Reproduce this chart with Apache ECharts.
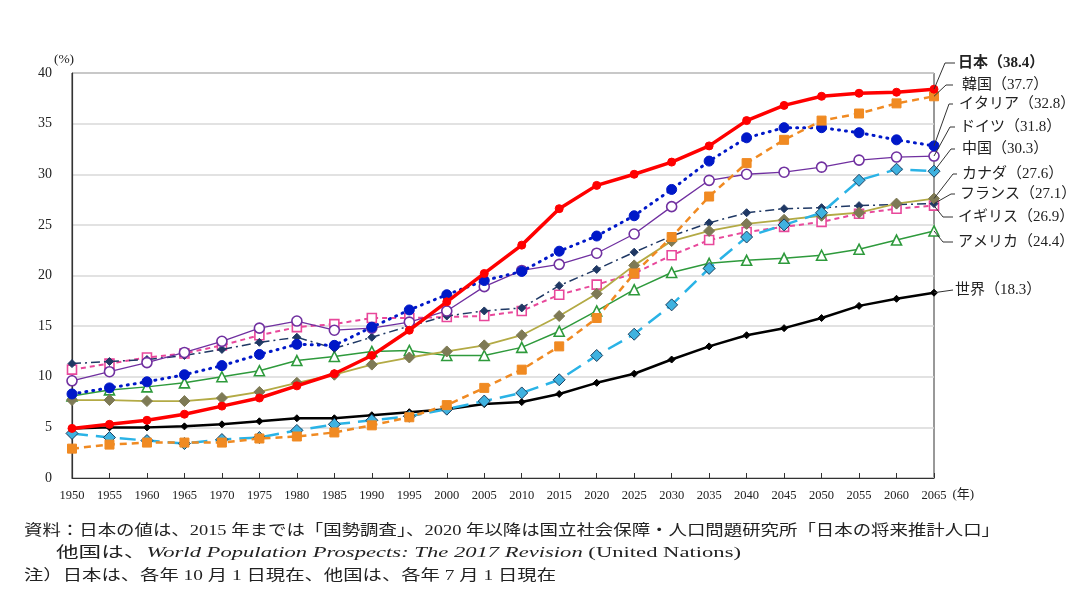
<!DOCTYPE html>
<html><head><meta charset="utf-8">
<script src="https://cdn.jsdelivr.net/npm/echarts@6/dist/echarts.min.js"></script>
<style>html,body{margin:0;padding:0;background:#fff}#c{width:1088px;height:593px}</style>
</head><body><div id="c"></div>
<script>
// ---- data ----
const years = ['1950','1955','1960','1965','1970','1975','1980','1985','1990','1995','2000','2005','2010','2015','2020','2025','2030','2035','2040','2045','2050','2055','2060','2065'];
const yTicks = [0,5,10,15,20,25,30,35,40];
const japan   = [4.9,5.3,5.7,6.3,7.1,7.9,9.1,10.3,12.1,14.6,17.4,20.2,23.0,26.6,28.9,30.0,31.2,32.8,35.3,36.8,37.7,38.0,38.1,38.4];
const korea   = [2.9,3.3,3.5,3.5,3.5,3.9,4.1,4.5,5.2,6.0,7.2,8.9,10.7,13.0,15.8,20.2,23.8,27.8,31.1,33.4,35.3,36.0,37.0,37.7];
const italy   = [8.3,8.9,9.5,10.2,11.1,12.2,13.2,13.1,14.9,16.6,18.1,19.5,20.4,22.4,23.9,25.9,28.5,31.3,33.6,34.6,34.6,34.1,33.4,32.8];
const germany = [9.6,10.5,11.4,12.4,13.5,14.8,15.5,14.6,14.8,15.4,16.5,18.9,20.5,21.1,22.2,24.1,26.8,29.4,30.0,30.2,30.7,31.4,31.7,31.8];
const china   = [4.4,4.0,3.7,3.4,3.8,4.0,4.7,5.3,5.7,6.1,6.8,7.6,8.4,9.7,12.1,14.2,17.1,20.7,23.8,25.0,26.2,29.4,30.5,30.3];
const canada  = [7.7,7.7,7.6,7.6,7.9,8.5,9.4,10.2,11.2,11.9,12.5,13.1,14.1,16.0,18.2,21.0,23.4,24.4,25.1,25.5,25.9,26.2,27.1,27.6];
const france  = [11.3,11.5,11.7,12.1,12.7,13.4,13.9,12.8,13.9,15.0,16.0,16.5,16.8,19.0,20.6,22.3,23.9,25.2,26.2,26.6,26.7,26.9,27.0,27.1];
const uk      = [10.7,11.3,11.9,12.3,13.1,14.1,14.9,15.2,15.8,15.8,15.9,16.0,16.5,18.1,19.1,20.2,22.0,23.5,24.3,24.8,25.3,26.1,26.6,26.9];
const usa     = [8.1,8.7,9.0,9.4,10.0,10.6,11.6,12.0,12.5,12.6,12.1,12.1,12.9,14.5,16.5,18.6,20.3,21.2,21.5,21.7,22.0,22.6,23.5,24.4];
const world   = [4.9,5.0,5.0,5.1,5.3,5.6,5.9,5.9,6.2,6.5,6.8,7.3,7.5,8.3,9.4,10.3,11.7,13.0,14.1,14.8,15.8,17.0,17.7,18.3];
const countryNames = ['世界','アメリカ','イギリス','フランス','カナダ','中国','ドイツ','イタリア','韓国','日本'];
const countryData  = [world, usa, uk, france, canada, china, germany, italy, korea, japan];
const endValueText = ['18.3','24.4','26.9','27.1','27.6','30.3','31.8','32.8','37.7','38.4'];

// ---- styles (not data) ----
const styles = [
  {color:'#000000', width:2.5, type:'solid', symbol:'diamond', size:7, fill:'#000000', border:'#000000'},
  {color:'#2E9A3C', width:1.5, type:'solid', symbol:'triangle', size:10, fill:'#ffffff', border:'#2E9A3C'},
  {color:'#E8489B', width:2, type:[5,4], symbol:'rect', size:9, fill:'#ffffff', border:'#E8489B'},
  {color:'#1F3864', width:1.5, type:[9,4,2,4], symbol:'diamond', size:8, fill:'#1F3864', border:'#1F3864'},
  {color:'#B3AA45', width:1.8, type:'solid', symbol:'diamond', size:11, fill:'#7E7A55', border:'#7E7A55'},
  {color:'#2AB3E6', width:2.5, type:[16,8], symbol:'diamond', size:12, fill:'#3FB2E0', border:'#1C3F5E'},
  {color:'#7030A0', width:1.3, type:'solid', symbol:'circle', size:10, fill:'#ffffff', border:'#7030A0'},
  {color:'#0018C8', width:3, type:[1,6], symbol:'circle', size:10, fill:'#0018C8', border:'#0018C8'},
  {color:'#F08A22', width:2.5, type:[7,5], symbol:'rect', size:9, fill:'#F08A22', border:'#F08A22'},
  {color:'#FF0000', width:3.5, type:'solid', symbol:'circle', size:8, fill:'#FF0000', border:'#FF0000'}
];
// label layout: [textX, textY, elbowX, lineEndX, bold]
const labelLayout = [
  [955, 290, 953, 953, false],
  [958, 242, 943, 953, false],
  [958, 217, 943, 953, false],
  [960, 194, 951, 955, false],
  [962, 174, 953, 957, false],
  [962, 149, 951, 955, false],
  [960, 127, 950, 955, false],
  [959, 104, 949, 953, false],
  [962, 85, 946, 953, false],
  [958, 63, 945, 955, true]
];

const FONT = "'Liberation Serif', 'Noto Sans CJK JP', serif";
const chart = echarts.init(document.getElementById('c'), null, {renderer:'canvas'});

const series = countryNames.map((n,i)=>{
  const s = styles[i];
  return {
    name:n, type:'line', data:countryData[i], symbol:s.symbol, symbolSize:s.size,
    showAllSymbol:true, z: 2+i, animation:false,
    lineStyle:{color:s.color, width:s.width, type:s.type, cap: (i===7?'round':'butt')},
    itemStyle:{color:s.fill, borderColor:s.border, borderWidth: (s.fill==='#ffffff'?1.6:1)},
    emphasis:{disabled:true}
  };
});

chart.setOption({
  animation:false,
  backgroundColor:'#ffffff',
  grid:{left:72, right:154, top:73, bottom:115, show:true, borderColor:'#333', borderWidth:1, backgroundColor:'transparent'},
  xAxis:{
    type:'category', data:years, boundaryGap:false,
    name:'(年)', nameLocation:'end', nameGap:10,
    nameTextStyle:{fontFamily:FONT, fontSize:13, color:'#222', verticalAlign:'top', padding:[10,0,0,0]},
    axisLine:{lineStyle:{color:'#333', width:1.2}},
    axisTick:{inside:true, length:5, lineStyle:{color:'#333'}, alignWithLabel:true},
    axisLabel:{interval:0, fontFamily:FONT, fontSize:12.5, color:'#222', margin:11},
    splitLine:{show:false}
  },
  yAxis:{
    type:'value', min:yTicks[0], max:yTicks[yTicks.length-1], interval:5,
    name:'(%)', nameLocation:'end', nameGap:7,
    nameTextStyle:{fontFamily:FONT, fontSize:13.5, color:'#222', align:'center', padding:[0,16,0,0]},
    axisLine:{show:true, lineStyle:{color:'#333', width:1.2}},
    axisTick:{show:false},
    axisLabel:{fontFamily:FONT, fontSize:14, color:'#222', margin:20},
    splitLine:{lineStyle:{color:'#D9D9D9', width:1.5}}
  },
  series: series
});

// end labels with leader lines (anchored to data through the chart's scale)
const graphics = [];
countryNames.forEach((n,i)=>{
  const last = countryData[i].length-1;
  const p = chart.convertToPixel({seriesIndex:i}, [last, countryData[i][last]]);
  const L = labelLayout[i];
  graphics.push({type:'polyline', silent:true, z:100,
    shape:{points:[[p[0],p[1]],[L[2],L[1]],[L[3],L[1]]]},
    style:{stroke:'#333', lineWidth:1, fill:null}});
  graphics.push({type:'text', silent:true, z:100, x:L[0], y:L[1],
    style:{text:n+'（'+endValueText[i]+'）', fontFamily:FONT, fontSize:15,
      fontWeight: L[4]?'bold':'normal', fill:'#222', verticalAlign:'middle', align:'left'}});
});

// notes
function measure(parts){
  const cv=document.createElement('canvas').getContext('2d'); let w=0;
  parts.forEach(p=>{cv.font=(p.italic?'italic ':'')+p.size+'px '+FONT; w+=cv.measureText(p.t).width;});
  return w;
}
const note1 = '資料：日本の値は、2015 年までは「国勢調査」、2020 年以降は国立社会保障・人口問題研究所「日本の将来推計人口」';
const note2a = '他国は、', note2b = 'World Population Prospects: The 2017 Revision', note2c = ' (United Nations)';
const note3 = '注）日本は、各年 10 月 1 日現在、他国は、各年 7 月 1 日現在';
const NS = 15;
const w1 = measure([{t:note1,size:NS}]);
const w2 = measure([{t:note2a,size:NS},{t:note2b,size:NS,italic:true},{t:note2c,size:NS}]);
const w3 = measure([{t:note3,size:NS}]);
graphics.push({type:'text', silent:true, x:24, y:531, scaleX:976/w1,
  style:{text:note1, fontFamily:FONT, fontSize:NS, fill:'#222', verticalAlign:'middle'}});
graphics.push({type:'text', silent:true, x:56, y:553, scaleX:685/w2,
  style:{text:'{a|'+note2a+'}{b|'+note2b+'}{a|'+note2c+'}', fill:'#222', verticalAlign:'middle',
    rich:{a:{fontFamily:FONT, fontSize:NS, fill:'#222'}, b:{fontFamily:FONT, fontSize:NS, fontStyle:'italic', fill:'#222'}}}});
graphics.push({type:'text', silent:true, x:24, y:576, scaleX:532/w3,
  style:{text:note3, fontFamily:FONT, fontSize:NS, fill:'#222', verticalAlign:'middle'}});

chart.setOption({graphic: graphics});
</script>
</body></html>
